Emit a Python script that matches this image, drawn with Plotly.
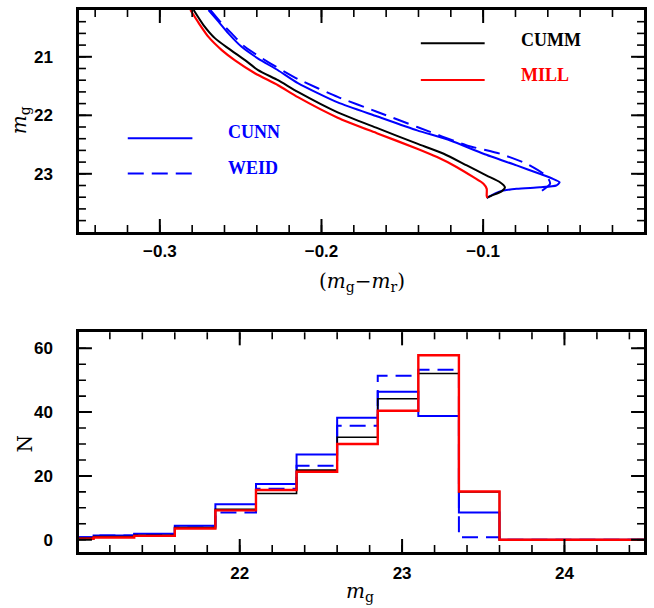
import numpy as np
import plotly.graph_objects as go

# ---- isochrone tracks: colour (g-r) vs magnitude g ----
cumm_col = [-0.2791, -0.2730, -0.2658, -0.2576, -0.2473, -0.2392, -0.2269, -0.2146,
            -0.1900, -0.1654, -0.1408, -0.1244, -0.1101, -0.0978, -0.0896, -0.0865,
            -0.0886, -0.0947, -0.0978]
cumm_mag = [20.20, 20.457, 20.685, 20.856, 21.057, 21.228, 21.40, 21.60,
            21.95, 22.22, 22.485, 22.657, 22.857, 23.03, 23.144, 23.23,
            23.30, 23.372, 23.41]

mill_col = [-0.2811, -0.2760, -0.2699, -0.2617, -0.2535, -0.2412, -0.2269, -0.2146,
            -0.1900, -0.1654, -0.1408, -0.1285, -0.1162, -0.1060, -0.0998, -0.0978,
            -0.0978, -0.0974]
mill_mag = [20.20, 20.42, 20.66, 20.885, 21.06, 21.28, 21.485, 21.69,
            22.04, 22.31, 22.571, 22.715, 22.887, 23.058, 23.17, 23.257,
            23.372, 23.41]

cunn_col = [-0.2699, -0.2637, -0.2576, -0.2494, -0.2392, -0.2269, -0.2146, -0.1900,
            -0.1654, -0.1408, -0.1203, -0.0998, -0.0793, -0.0650, -0.0568, -0.0527,
            -0.0548, -0.0650, -0.0793, -0.0896, -0.0978]
cunn_mag = [20.20, 20.40, 20.60, 20.83, 21.03, 21.23, 21.45, 21.78,
            22.02, 22.257, 22.43, 22.657, 22.857, 23.0, 23.086, 23.144,
            23.2, 23.23, 23.257, 23.30, 23.41]

weid_col = [-0.2687, -0.2617, -0.2556, -0.2474, -0.2330, -0.2146, -0.1900, -0.1654,
            -0.1408, -0.1101, -0.0896, -0.0730, -0.0627, -0.0596, -0.0586, -0.0636]
weid_mag = [20.20, 20.43, 20.60, 20.83, 21.09, 21.38, 21.686, 21.943,
            22.20, 22.515, 22.657, 22.83, 23.0, 23.086, 23.17, 23.29]

# ---- luminosity functions: counts per 0.25 mag bin ----
bin_edges = [20.85, 21.10, 21.35, 21.60, 21.85, 22.10, 22.35, 22.60,
             22.85, 23.10, 23.35, 23.60, 24.60]
n_cumm = [0.5, 1.0, 1.4, 3.8, 9.5, 14.5, 21.8, 32.1, 44.2, 52.1, 15.0, 0.0]
n_mill = [0.3, 0.7, 1.2, 3.5, 9.2, 15.6, 21.3, 30.0, 40.4, 57.8, 15.1, 0.0]
n_cunn = [0.8, 1.3, 1.9, 4.4, 11.1, 17.5, 26.7, 38.2, 46.4, 38.8, 8.5, 0.0]
n_weid = [0.8, 1.3, 1.7, 3.8, 8.5, 16.0, 23.2, 35.7, 51.4, 53.3, 0.8, 0.0]

BLUE = "#0000ff"
RED = "#ff0000"
BLACK = "#000000"
DASH = "16px,8px"

COL_RANGE = [-0.35, -0.0005]
MAG_RANGE_TOP = [23.995, 20.2]
MAG_RANGE_BOT = [21.01, 24.49]
N_RANGE = [-3.85, 65]

W, H = 654, 608
MARGIN = dict(l=79, r=7, t=10, b=56)
top_dom = [0.5904, 1.0]
bot_dom = [0.0, 0.4053]

fig = go.Figure()

# top panel tracks
for col, mag, colour, dash, w in [
    (cunn_col, cunn_mag, BLUE, "solid", 2.0),
    (weid_col, weid_mag, BLUE, DASH, 2.0),
    (cumm_col, cumm_mag, BLACK, "solid", 2.0),
    (mill_col, mill_mag, RED, "solid", 2.2),
]:
    fig.add_trace(go.Scatter(x=col, y=mag, mode="lines", xaxis="x", yaxis="y",
                             line=dict(color=colour, dash=dash, width=w,
                                       shape="spline", smoothing=0.6),
                             showlegend=False, hoverinfo="skip"))

# bottom panel step histograms
for counts, colour, dash, w in [
    (n_cunn, BLUE, "solid", 2.0),
    (n_weid, BLUE, DASH, 2.0),
    (n_cumm, BLACK, "solid", 1.6),
    (n_mill, RED, "solid", 2.4),
]:
    fig.add_trace(go.Scatter(x=bin_edges, y=counts + [counts[-1]], mode="lines",
                             xaxis="x2", yaxis="y2",
                             line=dict(color=colour, dash=dash, width=w, shape="hv"),
                             showlegend=False, hoverinfo="skip"))

tick_font = dict(family="Liberation Sans", size=17, color="black", weight="bold")
title_font = dict(family="DejaVu Serif", size=20, color="black")


def frame(**kw):
    base = dict(showline=True, linecolor="black", linewidth=2.5, mirror=True,
                ticks="", showgrid=False, zeroline=False, tickfont=tick_font)
    base.update(kw)
    return base


fig.update_layout(
    width=W, height=H, margin=MARGIN,
    paper_bgcolor="white", plot_bgcolor="white",
    xaxis=frame(domain=[0, 1], anchor="y", range=COL_RANGE,
                tick0=0, dtick=0.1, ticklabelstandoff=2),
    yaxis=frame(domain=top_dom, anchor="x", range=MAG_RANGE_TOP,
                tick0=20, dtick=1, ticklabelstandoff=20),
    xaxis2=frame(domain=[0, 1], anchor="y2", range=MAG_RANGE_BOT,
                 tick0=20, dtick=1, ticklabelstandoff=4),
    yaxis2=frame(domain=bot_dom, anchor="x2", range=N_RANGE,
                 tick0=0, dtick=20, ticklabelstandoff=20),
)

# inward tick marks on all four sides of each panel (major + minor)
plot_w = W - MARGIN["l"] - MARGIN["r"]
plot_h = H - MARGIN["t"] - MARGIN["b"]
MAJOR_LEN, MINOR_LEN = 13, 7


def tick_values(rng, step):
    lo, hi = min(rng), max(rng)
    start = np.ceil(lo / step - 1e-6) * step
    vals = np.arange(start, hi + 1e-9, step)
    return [v for v in vals if lo + 1e-9 < v < hi - 1e-9]


def add_ticks(xa, ya, xr, yr, x_major, x_minor, y_major, y_minor, dom):
    panel_h = plot_h * (dom[1] - dom[0])
    for step, length, width in [(x_minor, MINOR_LEN, 1.6), (x_major, MAJOR_LEN, 2.0)]:
        frac = length / panel_h
        for v in tick_values(xr, step):
            for y0, y1 in [(0, frac), (1, 1 - frac)]:
                fig.add_shape(type="line", xref=xa, yref=f"{ya} domain",
                              x0=v, x1=v, y0=y0, y1=y1, layer="above",
                              line=dict(color="black", width=width))
    for step, length, width in [(y_minor, MINOR_LEN, 1.6), (y_major, MAJOR_LEN, 2.0)]:
        frac = length / plot_w
        for v in tick_values(yr, step):
            for x0, x1 in [(0, frac), (1, 1 - frac)]:
                fig.add_shape(type="line", xref=f"{xa} domain", yref=ya,
                              x0=x0, x1=x1, y0=v, y1=v, layer="above",
                              line=dict(color="black", width=width))


add_ticks("x", "y", COL_RANGE, MAG_RANGE_TOP, 0.1, 0.02, 1.0, 0.2, top_dom)
add_ticks("x2", "y2", MAG_RANGE_BOT, N_RANGE, 1.0, 0.2, 20.0, 5.0, bot_dom)

# legend keys (drawn inside the top panel)
key_lines = [
    (0.605, 0.718, 0.85, BLACK, "solid"),
    (0.605, 0.718, 0.685, RED, "solid"),
    (0.0863, 0.2007, 0.422, BLUE, "solid"),
    (0.0863, 0.2007, 0.264, BLUE, DASH),
]
for x0, x1, yy, colour, dash in key_lines:
    fig.add_shape(type="line", xref="x domain", yref="y domain",
                  x0=x0, x1=x1, y0=yy, y1=yy,
                  line=dict(color=colour, width=2, dash=dash))

key_text = [
    ("CUMM", 0.779, 0.865, BLACK),
    ("MILL", 0.779, 0.709, RED),
    ("CUNN", 0.26, 0.45, BLUE),
    ("WEID", 0.26, 0.29, BLUE),
]
for txt, xx, yy, colour in key_text:
    fig.add_annotation(text=f"<b>{txt}</b>", xref="x domain", yref="y domain",
                       x=xx, y=yy, xanchor="left", yanchor="middle", showarrow=False,
                       font=dict(family="Liberation Serif", size=18, color=colour))

# axis titles
titles = [
    ("<i>m</i><sub>g</sub>", -0.104, 0.797, -90),
    ("(<i>m</i><sub>g</sub>−<i>m</i><sub>r</sub>)", 0.5, 0.498, 0),
    ("N", -0.095, 0.201, -90),
    ("<i>m</i><sub>g</sub>", 0.498, -0.074, 0),
]
for txt, xx, yy, ang in titles:
    fig.add_annotation(text=txt, xref="paper", yref="paper", x=xx, y=yy,
                       xanchor="center", yanchor="middle", showarrow=False,
                       textangle=ang, font=title_font)

fig.write_html("out.html")
